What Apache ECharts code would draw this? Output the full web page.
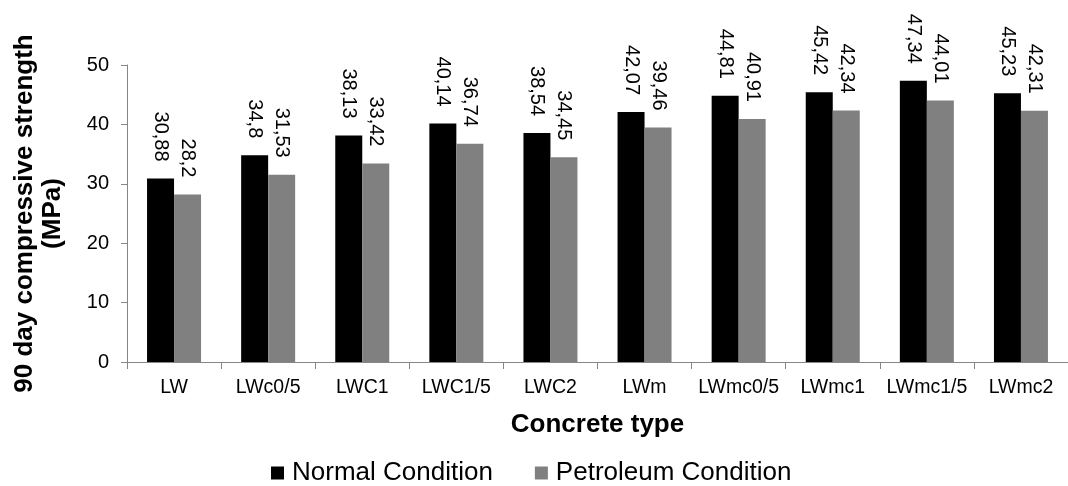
<!DOCTYPE html>
<html>
<head>
<meta charset="utf-8">
<script src="https://cdn.jsdelivr.net/npm/echarts@6/dist/echarts.min.js"></script>
<style>
html,body{margin:0;padding:0;background:#fff;}
#chart{width:1068px;height:486px;}
</style>
</head>
<body>
<div id="chart"></div>
<script>
const categories = ['LW', 'LWc0/5', 'LWC1', 'LWC1/5', 'LWC2', 'LWm', 'LWmc0/5', 'LWmc1', 'LWmc1/5', 'LWmc2'];
const normalCondition = [30.88, 34.8, 38.13, 40.14, 38.54, 42.07, 44.81, 45.42, 47.34, 45.23];
const petroleumCondition = [28.2, 31.53, 33.42, 36.74, 34.45, 39.46, 40.91, 42.34, 44.01, 42.31];
const yTicks = [0, 10, 20, 30, 40, 50];

const FONT = '"Liberation Sans", Arial, sans-serif';
const chart = echarts.init(document.getElementById('chart'), null, {renderer: 'canvas'});

const labelOpt = {
  show: true,
  position: 'top',
  distance: 17,
  rotate: -90,
  align: 'right',
  verticalAlign: 'middle',
  color: '#000',
  fontFamily: FONT,
  fontSize: 20,
  formatter: p => String(p.value).replace('.', ',')
};

chart.setOption({
  animation: false,
  backgroundColor: '#fff',
  textStyle: {fontFamily: FONT},
  grid: {left: 127, right: -4, top: 65, bottom: 124, containLabel: false},
  legend: {
    left: 271,
    top: 460,
    padding: 0,
    itemWidth: 13,
    itemHeight: 13,
    itemGap: 42,
    textStyle: {fontFamily: FONT, fontSize: 26, color: '#000', padding: [0, 0, 0, 3]},
    icon: 'rect',
    data: ['Normal Condition', 'Petroleum Condition']
  },
  xAxis: {
    type: 'category',
    data: categories,
    name: 'Concrete type',
    nameLocation: 'middle',
    nameGap: 50,
    nameTextStyle: {fontFamily: FONT, fontSize: 26, fontWeight: 'bold', color: '#000'},
    axisLine: {lineStyle: {color: '#868686', width: 1}},
    axisTick: {show: true, length: 7, lineStyle: {color: '#868686'}},
    axisLabel: {fontFamily: FONT, fontSize: 19.5, color: '#000', margin: 16, interval: 0},
    splitLine: {show: false}
  },
  yAxis: {
    type: 'value',
    min: yTicks[0],
    max: yTicks[yTicks.length - 1],
    interval: yTicks[1] - yTicks[0],
    name: '90 day compressive strength\n(MPa)',
    nameLocation: 'middle',
    nameRotate: 90,
    nameGap: 60,
    nameTextStyle: {fontFamily: FONT, fontSize: 26, fontWeight: 'bold', color: '#000', lineHeight: 28, align: 'center'},
    axisLine: {show: true, lineStyle: {color: '#868686', width: 1}},
    axisTick: {show: true, length: 6, lineStyle: {color: '#868686'}},
    axisLabel: {fontFamily: FONT, fontSize: 20, color: '#000', margin: 18},
    splitLine: {show: false}
  },
  series: [
    {
      name: 'Normal Condition',
      type: 'bar',
      data: normalCondition,
      barWidth: 27,
      barGap: '0%',
      itemStyle: {color: '#000000'},
      label: labelOpt
    },
    {
      name: 'Petroleum Condition',
      type: 'bar',
      data: petroleumCondition,
      barWidth: 27,
      barGap: '0%',
      itemStyle: {color: '#808080'},
      label: labelOpt
    }
  ]
});
</script>
</body>
</html>
